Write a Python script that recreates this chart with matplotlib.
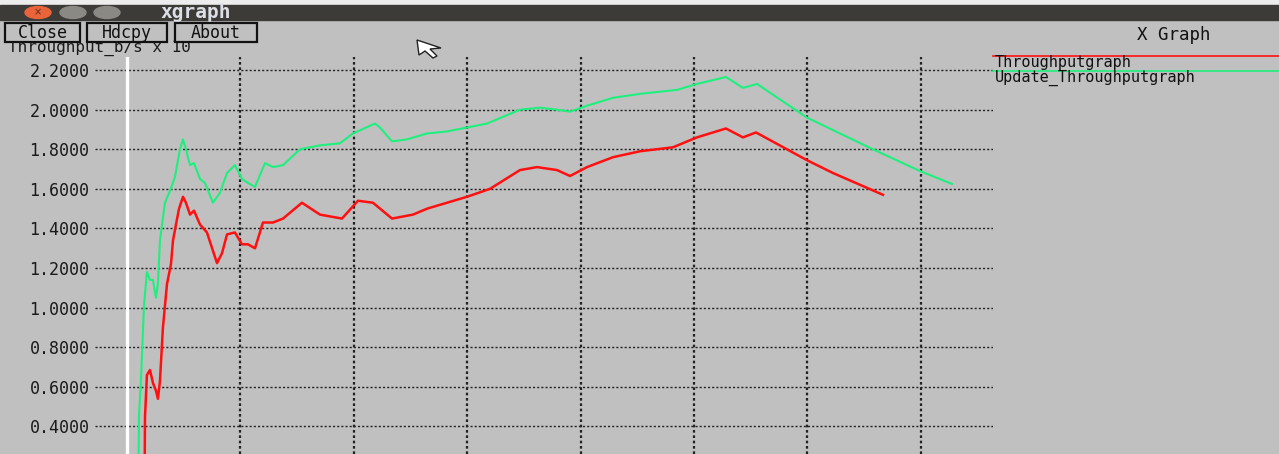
import matplotlib
matplotlib.use("Agg")
import matplotlib.pyplot as plt
from matplotlib.patches import Rectangle, Ellipse, Polygon

# data (x in time units, y in throughput x 10^6)
green_x = [1.0, 1.06, 1.23, 1.50, 1.76, 2.03, 2.29, 2.56, 2.73, 2.91, 3.35, 3.79, 4.23,
           4.67, 4.94, 5.20, 5.56, 5.91, 6.44, 6.88, 7.58, 8.20, 8.82, 9.52, 10.14,
           10.67, 11.29, 12.17, 12.87, 13.76, 15.26, 17.02, 18.78, 19.93, 21.87,
           22.31, 23.37, 24.69, 26.46, 28.22, 29.98, 31.75, 34.66, 36.42, 37.92,
           39.07, 40.57, 42.86, 45.24, 48.50, 50.26, 52.82, 54.32, 55.56, 59.96,
           65.78, 69.93, 72.75]
green_y = [0.10, 0.46, 0.63, 1.01, 1.18, 1.14, 1.14, 1.05, 1.12, 1.34, 1.53, 1.59, 1.66,
           1.80, 1.85, 1.80, 1.72, 1.73, 1.65, 1.63, 1.53, 1.58, 1.68, 1.72, 1.65,
           1.63, 1.61, 1.73, 1.71, 1.72, 1.80, 1.82, 1.83, 1.88, 1.93,
           1.91, 1.84, 1.85, 1.88, 1.89, 1.91, 1.93, 2.00, 2.01, 2.00,
           1.99, 2.02, 2.06, 2.08, 2.10, 2.13, 2.165, 2.11, 2.13, 1.96,
           1.80, 1.69, 1.625]

red_x = [1.55, 1.59, 1.76, 2.03, 2.29, 2.56, 2.73, 2.91, 3.17, 3.53, 3.88, 4.06, 4.32,
         4.59, 4.94, 5.20, 5.56, 5.91, 6.44, 7.05, 7.94, 8.38, 8.82, 9.52, 10.14,
         10.67, 11.29, 11.99, 12.87, 13.76, 15.43, 17.02, 18.96, 20.37, 21.69,
         23.37, 25.22, 26.46, 28.22, 29.98, 32.01, 34.66, 36.16, 37.92, 39.07,
         40.57, 42.86, 45.24, 48.15, 50.26, 52.82, 54.32, 55.47, 59.96, 62.26, 66.67]
red_y = [0.10, 0.45, 0.66, 0.685, 0.62, 0.58, 0.54, 0.63, 0.90, 1.12, 1.22, 1.34, 1.42,
         1.50, 1.56, 1.53, 1.47, 1.49, 1.42, 1.38, 1.225, 1.275, 1.37, 1.38, 1.32,
         1.32, 1.30, 1.43, 1.43, 1.45, 1.53, 1.47, 1.45, 1.54, 1.53,
         1.45, 1.47, 1.50, 1.53, 1.56, 1.60, 1.695, 1.71, 1.695, 1.665,
         1.71, 1.76, 1.79, 1.81, 1.86, 1.905, 1.86, 1.885, 1.745, 1.68, 1.57]

y_ticks = [0.4, 0.6, 0.8, 1.0, 1.2, 1.4, 1.6, 1.8, 2.0, 2.2]
x_grid = [10, 20, 30, 40, 50, 60, 70]
series_names = ['Throughputgraph', 'Update_Throughputgraph']

RED = '#ff1010'
GREEN = '#1ef07e'
BG = '#c0c0c0'
MONO = 'DejaVu Sans Mono'

W, H = 1279, 454
fig = plt.figure(figsize=(W / 100, H / 100), dpi=100, facecolor=BG)

# plot area in window pixels: x 95..993, y 57..454
ax = fig.add_axes([95 / W, 0, (993 - 95) / W, (454 - 57) / H])
ax.set_facecolor('none')
ax.set_xlim(-2.82, 76.37)
ax.set_ylim(0.261, 2.266)
for s in ax.spines.values():
    s.set_visible(False)

for v in y_ticks:
    ax.axhline(v, color='#222222', lw=1.0, ls=(0, (1.5, 1.5)), zorder=1)
for v in x_grid:
    ax.axvline(v, color='#222222', lw=1.6, ls=(0, (1.2, 1.2)), zorder=1)
ax.axvline(0, color='white', lw=2.4, zorder=2)

ax.set_xticks([])
ax.set_yticks(y_ticks)
ax.set_yticklabels([f'{v:.4f}' for v in y_ticks], family=MONO, fontsize=12,
                   color='#1a1a1a')
ax.tick_params(axis='y', length=0, pad=4)

ax.plot(red_x, red_y, color=RED, lw=1.8, zorder=3)
ax.plot(green_x, green_y, color=GREEN, lw=1.5, zorder=4)

# window chrome drawn in pixel coordinates
ov = fig.add_axes([0, 0, 1, 1])
ov.set_xlim(0, W)
ov.set_ylim(H, 0)
ov.axis('off')
ov.patch.set_alpha(0)

ov.add_patch(Rectangle((0, 0), W, 5, color='#ededed', zorder=1))
ov.add_patch(Rectangle((0, 5), W, 15, color='#3c3b37', zorder=1))
ov.add_patch(Ellipse((38, 12.5), 26, 12, color='#e9643a', zorder=2))
ov.text(38, 12.5, '×', ha='center', va='center', fontsize=7, color='#5a2a1a', zorder=3)
ov.add_patch(Ellipse((73, 12.5), 26, 12, color='#8a8984', zorder=2))
ov.add_patch(Ellipse((107, 12.5), 26, 12, color='#8a8984', zorder=2))
ov.text(160, 12.5, 'xgraph', ha='left', va='center', fontsize=14, fontweight='bold',
        color='#dcdfe6', family=MONO, zorder=3)

# y axis label just below the buttons
ov.text(8, 52, 'Throughput_b/s x 10', ha='left', va='baseline', family=MONO,
        fontsize=11.5, color='#1a1a1a', zorder=2)

for label, x0, x1 in [('Close', 5, 80), ('Hdcpy', 87, 167), ('About', 175, 257)]:
    ov.add_patch(Rectangle((x0, 23), x1 - x0, 19, facecolor=BG, edgecolor='#111111',
                           lw=1.6, zorder=4))
    ov.text((x0 + x1) / 2, 33, label, ha='center', va='center', family=MONO,
            fontsize=12, color='#111111', zorder=5)

ov.add_patch(Polygon([(417, 40), (419, 55), (425, 51), (433, 58), (437, 56),
                      (430, 49), (441, 48)], closed=True, facecolor='white',
                     edgecolor='#222222', lw=1.0, zorder=6))

# legend
ov.text(1174, 35, 'X Graph', ha='center', va='center', family=MONO, fontsize=12.5,
        color='#111111', zorder=3)
ov.plot([993, W], [56, 56], color=RED, lw=1.2, zorder=3)
ov.text(995, 63, series_names[0], ha='left', va='center', family=MONO, fontsize=11,
        color='#111111', zorder=3)
ov.plot([993, W], [70.5, 70.5], color=GREEN, lw=1.2, zorder=3)
ov.text(995, 78, series_names[1], ha='left', va='center', family=MONO, fontsize=11,
        color='#111111', zorder=3)

fig.savefig('out.png', dpi=100, facecolor=BG)
